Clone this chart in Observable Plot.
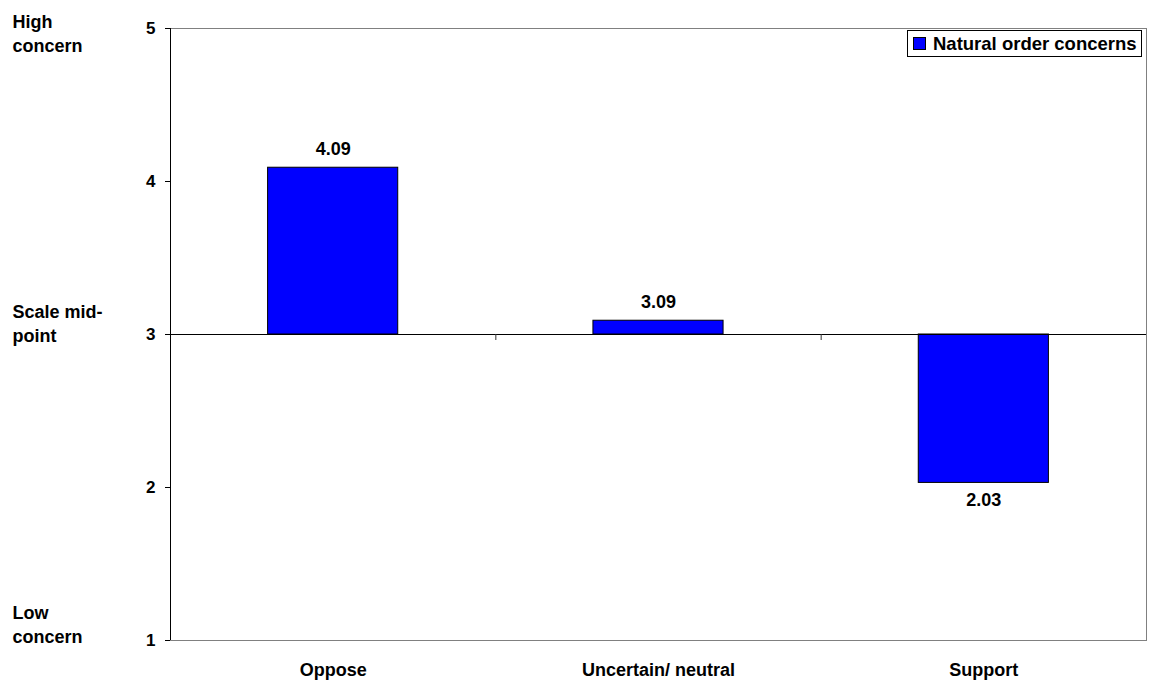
<!DOCTYPE html>
<html>
<head>
<meta charset="utf-8">
<script src="https://cdn.jsdelivr.net/npm/d3@7"></script>
<script src="https://cdn.jsdelivr.net/npm/@observablehq/plot@0.6"></script>
<style>
  html, body { margin: 0; padding: 0; background: #fff; }
  #wrap { position: relative; width: 1150px; height: 682px; font-family: "Liberation Sans", Arial, sans-serif; }
  #legend { position: absolute; left: 907px; top: 30px; width: 233px; height: 25px; border: 1px solid #000; background: #fff;
    font-weight: bold; font-size: 18.5px; display: flex; align-items: center; box-sizing: content-box; }
  #legend .sw { width: 11px; height: 11px; background: #0000ff; border: 1px solid #000; margin-left: 5px; margin-right: 7px; }
</style>
</head>
<body>
<div id="wrap"></div>
<script>
const categories = ["Oppose", "Uncertain/ neutral", "Support"];
const values = [4.09, 3.09, 2.03];
const yTicks = [1, 2, 3, 4, 5];
const scaleLabels = ["High\nconcern", "Scale mid-\npoint", "Low\nconcern"];
const scaleLabelValues = [5, 3, 1];
const scaleLabelShift = [4, -12, -17];
const midpoint = 3;
const seriesName = "Natural order concerns";

const rows = categories.map((c, i) => ({i, c, v: values[i]}));
const boundaries = categories.slice(1).map((_, i) => i + 0.5);
const notes = scaleLabels.map((t, i) => ({t, y: scaleLabelValues[i], dy: scaleLabelShift[i]}));

const chart = Plot.plot({
  width: 1150,
  height: 682,
  marginLeft: 170,
  marginRight: 4,
  marginTop: 28,
  marginBottom: 42,
  style: {fontFamily: "'Liberation Sans', Arial, sans-serif", fontWeight: "bold", fontSize: "18px", color: "#000", background: "#fff"},
  x: {domain: [-0.5, categories.length - 0.5], axis: null},
  y: {domain: [1, 5], axis: null},
  marks: [
    Plot.frame({stroke: "#808080"}),
    Plot.rectY(rows, {x1: d => d.i - 0.2, x2: d => d.i + 0.2, y1: midpoint, y2: "v", fill: "#0000ff", stroke: "#000", strokeWidth: 1}),
    Plot.ruleY([midpoint], {stroke: "#000"}),
    Plot.ruleX(boundaries, {x: d => d, y1: midpoint, y2: midpoint, insetBottom: -6, stroke: "#333"}),
    Plot.ruleX([-0.5], {stroke: "#000"}),
    Plot.axisY(yTicks, {label: null, tickSize: 5, tickPadding: 10, fontSize: 17, stroke: "#000", tickFormat: d => String(d)}),
    Plot.axisX(rows.map(d => d.i), {label: null, tickSize: 0, tickPadding: 23, fontSize: 18, tickFormat: i => categories[i]}),
    Plot.text(rows.filter(d => d.v >= midpoint), {x: "i", y: "v", text: d => d.v.toFixed(2), lineAnchor: "bottom", dy: -13, fontSize: 18}),
    Plot.text(rows.filter(d => d.v < midpoint), {x: "i", y: "v", text: d => d.v.toFixed(2), lineAnchor: "top", dy: 10, fontSize: 18}),
    ...notes.map(n => Plot.text([n], {y: "y", text: "t", frameAnchor: "left", textAnchor: "start", dx: -158, dy: n.dy, lineAnchor: "middle", lineHeight: 1.33, fontSize: 18}))
  ]
});
const wrap = document.getElementById("wrap");
wrap.appendChild(chart);
const legend = document.createElement("div");
legend.id = "legend";
legend.innerHTML = '<div class="sw"></div><span></span>';
legend.querySelector("span").textContent = seriesName;
wrap.appendChild(legend);
</script>
</body>
</html>
